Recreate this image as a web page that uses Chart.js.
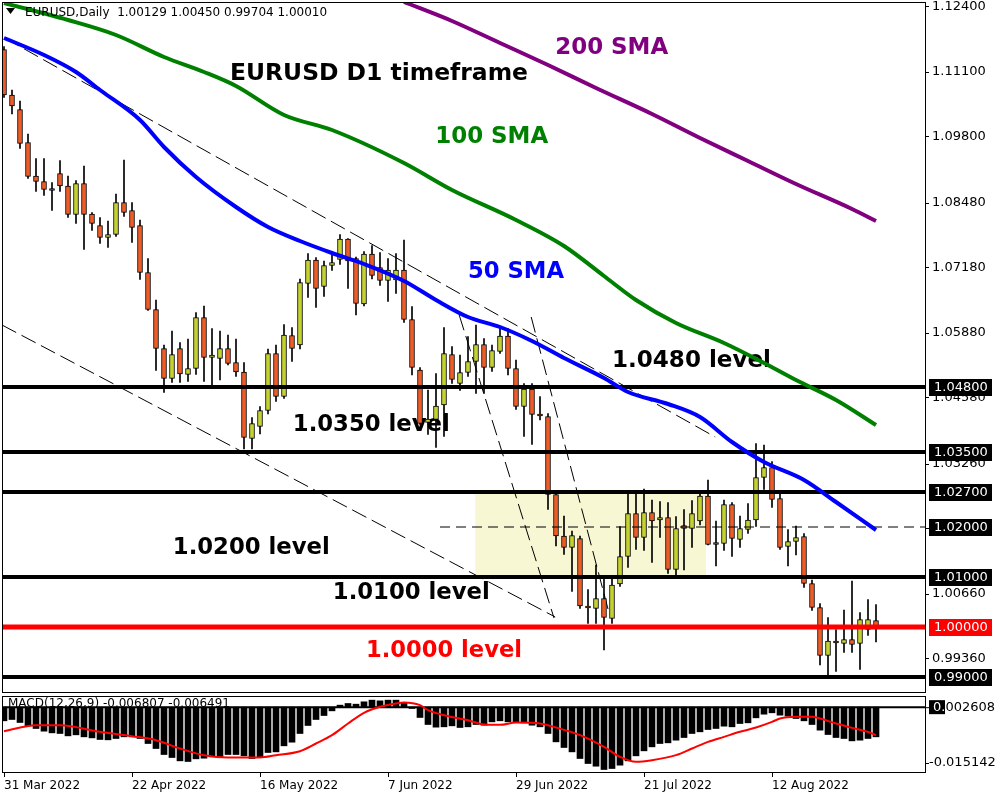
<!DOCTYPE html>
<html>
<head>
<meta charset="utf-8">
<script src="https://cdn.jsdelivr.net/npm/chart.js@4.4.1/dist/chart.umd.min.js"></script>
<style>
  body { margin: 0; background: #fff; }
  #pricebox { position: absolute; left: 0; top: 0; width: 1000px; height: 694px; }
  #macdbox { position: absolute; left: 0; top: 694px; width: 1000px; height: 106px; }
</style>
</head>
<body>
<div id="pricebox"><canvas id="priceChart"></canvas></div>
<div id="macdbox"><canvas id="macdChart"></canvas></div>
<script>
// daily candles, 31 Mar 2022 onwards (index = trading day)
var openP = [1.1155,1.1064,1.1035,1.0969,1.0902,1.0891,1.0875,1.0907,1.0882,1.0825,
  1.0887,1.0826,1.0803,1.0779,1.0785,1.0849,1.0833,1.0803,1.0709,1.0635,
  1.0557,1.0497,1.0557,1.0505,1.0517,1.0619,1.0539,1.0537,1.0557,1.0529,
  1.0510,1.0377,1.0401,1.0433,1.0547,1.0461,1.0583,1.0564,1.0687,1.0734,
  1.0681,1.0723,1.0735,1.0776,1.0737,1.0646,1.0746,1.0719,1.0693,1.0694,
  1.0714,1.0615,1.0514,1.0409,1.0415,1.0444,1.0545,1.0487,1.0509,1.0531,
  1.0565,1.0519,1.0551,1.0582,1.0517,1.0441,1.0476,1.0423,1.0421,1.0265,
  1.0182,1.0159,1.0177,1.0039,1.0037,1.0057,1.0017,1.0086,1.0141,1.0227,
  1.0179,1.0229,1.0214,1.0219,1.0115,1.0203,1.0197,1.0212,1.0262,1.0166,
  1.0167,1.0245,1.0175,1.0195,1.0214,1.0299,1.0319,1.0257,1.0161,1.0171,
  1.0181,1.0087,1.0039,0.9943,0.9969,0.9967,0.9975,0.9967,0.9995,1.00129];
var highP = [1.1161,1.1074,1.1052,1.0986,1.0937,1.0937,1.0889,1.0933,1.0902,1.0893,
  1.0922,1.0829,1.0819,1.0812,1.0866,1.0934,1.0849,1.0814,1.0737,1.0654,
  1.0564,1.0592,1.0569,1.0576,1.0629,1.0642,1.0597,1.0592,1.0584,1.0576,
  1.0529,1.0419,1.0441,1.0556,1.0564,1.0605,1.0599,1.0696,1.0747,1.0739,
  1.0732,1.0745,1.0785,1.0777,1.0740,1.0751,1.0763,1.0749,1.0737,1.0747,
  1.0774,1.0641,1.0519,1.0474,1.0507,1.0599,1.0561,1.0544,1.0581,1.0604,
  1.0577,1.0564,1.0601,1.0597,1.0534,1.0487,1.0487,1.0461,1.0427,1.0269,
  1.0222,1.0192,1.0182,1.0075,1.0124,1.0097,1.0097,1.0201,1.0269,1.0269,
  1.0276,1.0254,1.0251,1.0249,1.0221,1.0235,1.0253,1.0267,1.0294,1.0212,
  1.0254,1.0249,1.0222,1.0247,1.0367,1.0364,1.0331,1.0267,1.0195,1.0202,
  1.0187,1.0094,1.0047,1.0019,0.9995,1.0034,1.0092,1.0029,1.0055,1.00450];
var lowP = [1.1059,1.1026,1.0957,1.0897,1.0871,1.0863,1.0833,1.0871,1.0819,1.0807,
  1.0755,1.0793,1.0767,1.0759,1.0781,1.0821,1.0769,1.0695,1.0633,1.0513,
  1.0469,1.0489,1.0489,1.0491,1.0505,1.0491,1.0484,1.0494,1.0524,1.0501,
  1.0356,1.0356,1.0386,1.0426,1.0451,1.0457,1.0531,1.0556,1.0659,1.0639,
  1.0661,1.0713,1.0725,1.0677,1.0624,1.0642,1.0696,1.0683,1.0651,1.0667,
  1.0609,1.0504,1.0405,1.0385,1.0359,1.0381,1.0487,1.0473,1.0501,1.0467,
  1.0467,1.0511,1.0547,1.0504,1.0435,1.0381,1.0365,1.0414,1.0235,1.0162,
  1.0145,1.0071,1.0037,1.0007,1.0007,0.9954,1.0007,1.0081,1.0119,1.0155,
  1.0153,1.0129,1.0179,1.0107,1.0097,1.0114,1.0159,1.0204,1.0164,1.0122,
  1.0153,1.0141,1.0159,1.0187,1.0201,1.0275,1.0239,1.0155,1.0122,1.0144,
  1.0079,1.0033,0.9924,0.9901,0.9911,0.9949,0.9949,0.9915,0.9983,0.99704];
var closeP = [1.1064,1.1042,1.0967,1.0901,1.0891,1.0875,1.0873,1.0882,1.0825,1.0887,
  1.0825,1.0807,1.0779,1.0785,1.0849,1.0829,1.0799,1.0709,1.0635,1.0557,
  1.0497,1.0545,1.0506,1.0517,1.0619,1.0539,1.0544,1.0557,1.0527,1.0510,
  1.0379,1.0407,1.0433,1.0547,1.0461,1.0584,1.0557,1.0689,1.0734,1.0677,
  1.0723,1.0729,1.0776,1.0732,1.0647,1.0746,1.0703,1.0693,1.0714,1.0714,
  1.0615,1.0519,1.0407,1.0416,1.0442,1.0547,1.0495,1.0509,1.0531,1.0565,
  1.0519,1.0553,1.0582,1.0517,1.0441,1.0476,1.0425,1.0422,1.0265,1.0182,
  1.0159,1.0183,1.0042,1.0038,1.0057,1.0019,1.0084,1.0141,1.0227,1.0179,
  1.0229,1.0212,1.0219,1.0115,1.0197,1.0197,1.0227,1.0262,1.0165,1.0165,
  1.0245,1.0177,1.0197,1.0214,1.0299,1.0319,1.0255,1.0159,1.0171,1.0179,
  1.0087,1.0039,0.9943,0.9972,0.9968,0.9975,0.9965,1.0015,1.0015,1.00010];

// moving averages, read at a few bar positions
var sma50Idx = [0,5,9,12,17,20,24,29,33,37,41,45,50,54,58,62,66,70,75,78,83,87,91,95,100,104,109];
var sma50Val = [1.1178,1.1144,1.1110,1.1074,1.1014,1.0960,1.0900,1.0840,1.0800,1.0772,1.0748,1.0726,1.0692,1.0654,1.0620,1.0600,1.0572,1.0538,1.0498,1.0470,1.0446,1.0420,1.0370,1.0330,1.0294,1.0250,1.0194];
var sma100Idx = [0,8,14,20,25,29,35,41,50,56,64,70,75,79,84,90,95,99,104,109];
var sma100Val = [1.1248,1.1214,1.1184,1.1140,1.1110,1.1082,1.1024,1.0994,1.0928,1.0874,1.0814,1.0762,1.0702,1.0654,1.0608,1.0568,1.0528,1.0494,1.0454,1.0404];
var sma200Idx = [50,56,62,68,74,81,87,93,99,106,109];
var sma200Val = [1.1250,1.1212,1.1168,1.1124,1.1078,1.1026,1.0978,1.0932,1.0886,1.0836,1.0812];

// drawn trendlines [index, price]
var trendUpper = [[0.1,1.1178],[88.9,1.0380]];
var trendLower = [[-0.25,1.0604],[68.9,1.0020]];
var trendSteepA = [[56.9,1.0624],[68.75,1.0018]];
var trendSteepB = [[65.9,1.0620],[75.6,1.0030]];

var levels = [1.0480,1.0350,1.0270,1.0100,0.9900];
var parity = 1.0000;
var midLevel = 1.0200;
var rangeBox = {from:58.9, to:87.75, top:1.0270, bottom:1.0104};

var yTickValues = [1.124,1.111,1.098,1.0848,1.0718,1.0588,1.0458,1.0326,1.0196,1.0066,0.9936];

// MACD(12,26,9)
var macdHist = [-0.00319,-0.00288,-0.00358,-0.00436,-0.00498,-0.00561,-0.00600,-0.00615,-0.00670,-0.00646,
  -0.00693,-0.00717,-0.00755,-0.00763,-0.00732,-0.00693,-0.00693,-0.00732,-0.00849,-0.00966,
  -0.01106,-0.01176,-0.01254,-0.01269,-0.01207,-0.01192,-0.01160,-0.01160,-0.01106,-0.01106,
  -0.01137,-0.01199,-0.01160,-0.01059,-0.01044,-0.00903,-0.00818,-0.00615,-0.00428,-0.00288,
  -0.00195,-0.00086,0.00047,0.00086,0.00070,0.00125,0.00164,0.00148,0.00164,0.00164,
  0.00109,-0.00031,-0.00241,-0.00405,-0.00467,-0.00459,-0.00436,-0.00475,-0.00459,-0.00405,
  -0.00421,-0.00343,-0.00319,-0.00343,-0.00343,-0.00366,-0.00421,-0.00459,-0.00615,-0.00810,
  -0.00942,-0.01044,-0.01199,-0.01316,-0.01379,-0.01456,-0.01433,-0.01355,-0.01254,-0.01137,
  -0.01020,-0.00927,-0.00849,-0.00833,-0.00771,-0.00709,-0.00615,-0.00576,-0.00522,-0.00498,
  -0.00444,-0.00459,-0.00382,-0.00366,-0.00249,-0.00164,-0.00132,-0.00187,-0.00210,-0.00265,
  -0.00319,-0.00405,-0.00537,-0.00639,-0.00709,-0.00732,-0.00787,-0.00771,-0.00732,-0.00693];
var signalIdx = [0,4,7,12,16,19,22,25,28,32,34,37,39,41,43,45,47,49,50,52,53,55,58,60,62,64,67,69,72,75,77,79,81,84,86,88,90,92,94,96,97,99,101,102,104,106,108,109];
var signalVal = [-0.00561,-0.00421,-0.00421,-0.00576,-0.00678,-0.00771,-0.00966,-0.01121,-0.01176,-0.01176,-0.01121,-0.01028,-0.00849,-0.00654,-0.00382,-0.00132,0.00008,0.00086,0.00109,0.00047,-0.00070,-0.00187,-0.00304,-0.00405,-0.00413,-0.00358,-0.00382,-0.00475,-0.00654,-0.00927,-0.01160,-0.01277,-0.01238,-0.01121,-0.00966,-0.00810,-0.00693,-0.00576,-0.00475,-0.00343,-0.00265,-0.00226,-0.00226,-0.00265,-0.00382,-0.00483,-0.00576,-0.00654];

var dateTickIdx = [0,16,32,48,64,80,96];
var dateLabels = ['31 Mar 2022','22 Apr 2022','16 May 2022','7 Jun 2022','29 Jun 2022','21 Jul 2022','12 Aug 2022'];

var BEAR = '#ef5b25', BULL = '#c4d22f';
var X_MIN = -0.25, X_MAX = 115.125;
var FONT = 'DejaVu Sans';

function pts(xs, ys) { return xs.map(function(x, k) { return {x: x, y: ys[k]}; }); }
function pairs(p) { return p.map(function(q) { return {x: q[0], y: q[1]}; }); }
function hline(v) { return [{x: X_MIN, y: v}, {x: X_MAX, y: v}]; }
function lineSet(data, color, width, order, dash) {
  return {type: 'line', data: data, borderColor: color, borderWidth: width, pointRadius: 0,
    tension: 0, fill: false, order: order, borderDash: dash || []};
}
function smoothSet(data, color, width, order) {
  var d = lineSet(data, color, width, order);
  d.cubicInterpolationMode = 'monotone';
  d.borderJoinStyle = 'round';
  return d;
}
function fitText(ctx, txt, x, y, w) {
  var m = ctx.measureText(txt).width;
  ctx.save();
  ctx.translate(x, y);
  ctx.scale(w / m, 1);
  ctx.fillText(txt, 0, 0);
  ctx.restore();
}

var idx = openP.map(function(_, i) { return i; });
var wickData = idx.map(function(i) { return {x: i, y: [lowP[i], highP[i]]}; });
var bodyData = idx.map(function(i) { return {x: i, y: [Math.min(openP[i], closeP[i]), Math.max(openP[i], closeP[i])]}; });
var bodyColors = idx.map(function(i) { return closeP[i] > openP[i] ? BULL : BEAR; });

var notes = [
  {t: 'EURUSD D1 timeframe', i: 28.25, v: 1.1106, c: '#000000', w: 298},
  {t: '200 SMA', i: 68.9, v: 1.1158, c: '#800080', w: 113},
  {t: '100 SMA', i: 53.9, v: 1.0980, c: '#008000', w: 113},
  {t: '50 SMA', i: 58.0, v: 1.0710, c: '#0000ff', w: 96},
  {t: '1.0480 level', i: 76.0, v: 1.0532, c: '#000000', w: 159},
  {t: '1.0350 level', i: 36.1, v: 1.0404, c: '#000000', w: 157},
  {t: '1.0200 level', i: 21.1, v: 1.0158, c: '#000000', w: 157},
  {t: '1.0100 level', i: 41.1, v: 1.0068, c: '#000000', w: 157},
  {t: '1.0000 level', i: 45.25, v: 0.9952, c: '#ff0000', w: 156}
];

var priceDecor = {
  id: 'priceDecor',
  beforeDatasetsDraw: function(chart) {
    var ctx = chart.ctx, xs = chart.scales.x, ys = chart.scales.y, a = chart.chartArea;
    ctx.save();
    ctx.beginPath();
    ctx.rect(a.left, a.top, a.right - a.left, a.bottom - a.top);
    ctx.clip();
    var x0 = xs.getPixelForValue(rangeBox.from), x1 = xs.getPixelForValue(rangeBox.to);
    var y0 = ys.getPixelForValue(rangeBox.top), y1 = ys.getPixelForValue(rangeBox.bottom);
    ctx.fillStyle = '#f7f7d4';
    ctx.fillRect(x0, y0, x1 - x0, y1 - y0);
    ctx.font = 'bold 23px "' + FONT + '"';
    ctx.textBaseline = 'middle';
    notes.forEach(function(n) {
      ctx.fillStyle = n.c;
      fitText(ctx, n.t, xs.getPixelForValue(n.i), ys.getPixelForValue(n.v), n.w);
    });
    ctx.restore();
  },
  afterDatasetsDraw: function(chart) {
    var ctx = chart.ctx;
    ctx.save();
    ctx.fillStyle = '#000';
    ctx.beginPath();
    ctx.moveTo(6, 8); ctx.lineTo(15, 8); ctx.lineTo(10.5, 14); ctx.closePath();
    ctx.fill();
    ctx.font = '12px "' + FONT + '"';
    ctx.textBaseline = 'middle';
    var last = openP.length - 1;
    ctx.fillText('EURUSD,Daily  ' + openP[last].toFixed(5) + ' ' + highP[last].toFixed(5) + ' ' +
      lowP[last].toFixed(5) + ' ' + closeP[last].toFixed(5), 25, 13);
    ctx.restore();
  },
  afterDraw: function(chart) {
    var ctx = chart.ctx, ys = chart.scales.y, a = chart.chartArea;
    ctx.save();
    ctx.strokeStyle = '#000';
    ctx.lineWidth = 1;
    ctx.strokeRect(a.left + 0.5, a.top + 0.5, a.right - a.left, a.bottom - a.top);
    ctx.font = '13px "' + FONT + '"';
    ctx.textBaseline = 'middle';
    var tags = levels.concat([midLevel]);
    tags.forEach(function(v) {
      var y = ys.getPixelForValue(v);
      ctx.fillStyle = '#000';
      ctx.fillRect(929, y - 8, 63, 17);
      ctx.fillStyle = '#fff';
      ctx.fillText(v.toFixed(5), 934, y + 0.5);
    });
    var yp = ys.getPixelForValue(parity);
    ctx.fillStyle = '#ff0000';
    ctx.fillRect(929, yp - 8, 63, 17);
    ctx.fillStyle = '#fff';
    ctx.fillText(parity.toFixed(5), 934, yp + 0.5);
    ctx.restore();
  }
};

var priceDatasets = [
  smoothSet(pts(sma50Idx, sma50Val), '#0000ff', 4, 0),
  smoothSet(pts(sma100Idx, sma100Val), '#008000', 4, 0),
  smoothSet(pts(sma200Idx, sma200Val), '#800080', 4, 0),
  lineSet(hline(parity), '#ff0000', 5, 1),
  lineSet([{x: 54.5, y: midLevel}, {x: X_MAX, y: midLevel}], '#000000', 1, 1, [10, 6])
];
levels.forEach(function(v) { priceDatasets.push(lineSet(hline(v), '#000000', 4, 1)); });
priceDatasets.push({type: 'bar', data: bodyData, backgroundColor: bodyColors, borderColor: '#000',
  borderWidth: 1, borderSkipped: false, barThickness: 5, minBarLength: 2, grouped: false, order: 2});
priceDatasets.push({type: 'bar', data: wickData, backgroundColor: '#000', barThickness: 1, grouped: false, order: 3});
[trendUpper, trendLower, trendSteepA, trendSteepB].forEach(function(t) {
  priceDatasets.push(lineSet(pairs(t), '#000000', 1, 4, [16, 6]));
});

new Chart(document.getElementById('priceChart'), {
  type: 'bar',
  data: {datasets: priceDatasets},
  options: {
    responsive: true, maintainAspectRatio: false, animation: false, events: [],
    layout: {padding: {top: 2, left: 2, right: 0, bottom: 2}},
    plugins: {legend: {display: false}, tooltip: {enabled: false}},
    scales: {
      x: {type: 'linear', display: false, min: X_MIN, max: X_MAX, offset: false},
      y: {
        type: 'linear', position: 'right', min: 0.987, max: 1.125,
        border: {display: false},
        grid: {drawOnChartArea: false, drawTicks: true, tickLength: 4, color: '#000'},
        ticks: {autoSkip: false, padding: 3, color: '#000', font: {family: FONT, size: 13},
          callback: function(v) { return Number(v).toFixed(5); }},
        afterBuildTicks: function(s) { s.ticks = yTickValues.map(function(v) { return {value: v}; }); },
        afterFit: function(s) { s.width = 75; s.paddingTop = 0; s.paddingBottom = 0; }
      }
    }
  },
  plugins: [priceDecor]
});

var macdDecor = {
  id: 'macdDecor',
  beforeDatasetsDraw: function(chart) {
    var ctx = chart.ctx;
    ctx.save();
    ctx.fillStyle = '#000';
    ctx.font = '12px "' + FONT + '"';
    ctx.textBaseline = 'middle';
    ctx.fillText('MACD(12,26,9) -0.006807 -0.006491', 8, 10);
    ctx.restore();
  },
  afterDraw: function(chart) {
    var ctx = chart.ctx, a = chart.chartArea, ys = chart.scales.y;
    ctx.save();
    ctx.strokeStyle = '#000';
    ctx.lineWidth = 1;
    ctx.strokeRect(a.left + 0.5, a.top + 0.5, a.right - a.left, a.bottom - a.top);
    var y0 = ys.getPixelForValue(0);
    ctx.fillRect(925, y0, 4, 1);
    ctx.fillRect(929, y0 - 7, 16, 14);
    ctx.font = '13px "' + FONT + '"';
    ctx.textBaseline = 'middle';
    ctx.fillText(ys.max.toFixed(6), 933, y0);
    ctx.save();
    ctx.beginPath(); ctx.rect(929, y0 - 7, 16, 14); ctx.clip();
    ctx.fillStyle = '#fff';
    ctx.fillText(ys.max.toFixed(6), 933, y0);
    ctx.restore();
    ctx.fillStyle = '#000';
    ctx.fillRect(925, a.bottom - 9, 4, 1);
    ctx.fillText(ys.min.toFixed(6), 929, a.bottom - 9);
    ctx.restore();
  }
};

new Chart(document.getElementById('macdChart'), {
  type: 'bar',
  data: {
    datasets: [
      smoothSet(pts(signalIdx, signalVal), '#ff0000', 2, 0),
      lineSet(hline(0), '#000000', 2, 1),
      {type: 'bar', data: pts(idx, macdHist), backgroundColor: '#000', barThickness: 6, grouped: false, order: 2}
    ]
  },
  options: {
    responsive: true, maintainAspectRatio: false, animation: false, events: [],
    layout: {padding: {top: 2, left: 2, right: 0, bottom: 0}},
    plugins: {legend: {display: false}, tooltip: {enabled: false}},
    scales: {
      x: {
        type: 'linear', min: X_MIN, max: X_MAX, offset: false,
        border: {display: false},
        grid: {drawOnChartArea: false, drawTicks: true, tickLength: 5, color: '#000', offset: false},
        ticks: {autoSkip: false, maxRotation: 0, align: 'start', padding: 2, color: '#000',
          font: {family: FONT, size: 12},
          callback: function(v) { var k = dateTickIdx.indexOf(v); return k < 0 ? '' : dateLabels[k]; }},
        afterBuildTicks: function(s) { s.ticks = dateTickIdx.map(function(v) { return {value: v}; }); },
        afterFit: function(s) { s.height = 28; s.paddingLeft = 0; s.paddingRight = 0; }
      },
      y: {
        type: 'linear', position: 'right', min: -0.015142, max: 0.002608,
        border: {display: false}, grid: {display: false}, ticks: {display: false},
        afterFit: function(s) { s.width = 75; s.paddingTop = 0; s.paddingBottom = 0; }
      }
    }
  },
  plugins: [macdDecor]
});
</script>
</body>
</html>
